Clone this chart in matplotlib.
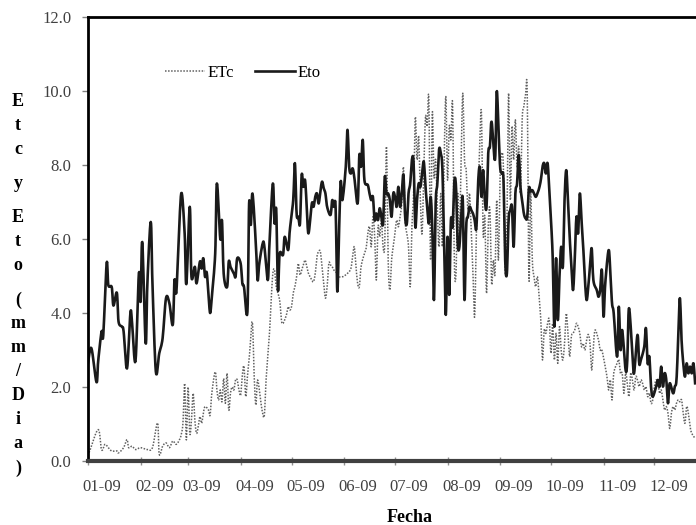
import numpy as np
import matplotlib
matplotlib.use("Agg")
import matplotlib.pyplot as plt
import matplotlib.transforms as mtransforms

# daily values (day of year 2009, value in mm/dia)
eto_day = [0, 2, 5, 6, 8, 9, 11, 12, 14, 15, 17, 18, 20, 21, 23, 25, 26, 28, 30, 31,
           32, 34, 35, 37, 38, 40, 42, 44, 46, 48, 50, 51, 52, 53, 55, 57, 58, 60, 61, 63,
           64, 66, 67, 68, 69, 70, 71, 72, 73, 75, 76, 78, 79, 80, 82, 83, 84, 86, 87, 88,
           90, 91, 92, 94, 95, 96, 97, 99, 100, 101, 103, 104, 106, 107, 109, 110, 111, 112, 113, 115,
           116, 118, 119, 121, 122, 123, 124, 125, 126, 127, 128, 129, 130, 132, 133, 134, 135, 136, 137, 138,
           139, 140, 141, 143, 144, 145, 146, 147, 148, 149, 150, 152, 153, 154, 155, 156, 157, 159, 160, 161,
           162, 163, 165, 166, 167, 168, 169, 170, 171, 172, 173, 174, 175, 176, 177, 178, 179, 180, 181, 182,
           183, 184, 185, 186, 187, 188, 189, 190, 191, 192, 193, 194, 195, 196, 197, 198, 199, 200, 201, 202,
           203, 204, 205, 206, 207, 208, 209, 210, 211, 212, 213, 214, 215, 216, 217, 218, 219, 220, 221, 222,
           223, 224, 225, 226, 227, 228, 229, 230, 231, 232, 233, 234, 235, 236, 237, 238, 240, 241, 242, 243,
           244, 245, 246, 247, 248, 249, 250, 251, 252, 253, 254, 255, 256, 257, 258, 259, 260, 261, 262, 263,
           264, 265, 266, 267, 268, 269, 270, 271, 272, 273, 274, 275, 276, 277, 278, 279, 280, 281, 282, 283,
           284, 285, 286, 287, 288, 289, 290, 291, 292, 293, 294, 295, 296, 297, 298, 300, 301, 302, 303, 304,
           305, 307, 308, 309, 310, 312, 313, 314, 315, 317, 318, 319, 321, 322, 324, 325, 326, 328, 329, 330,
           331, 332, 333, 335, 336, 337, 338, 339, 340, 341, 342, 343, 345, 346, 347, 348, 349, 350, 351, 352,
           353, 354, 355, 356, 357, 358]
eto_val = [2.65, 3.05, 2.13, 2.7, 3.5, 3.4, 5.34, 4.75, 4.7, 4.2, 4.55, 3.77, 3.63, 3.5, 2.5, 4.0, 3.72, 2.7, 5.07, 4.3,
           5.92, 3.18, 4.8, 6.46, 4.8, 2.42, 2.91, 3.32, 4.4, 4.26, 3.68, 4.89, 4.53, 5.43, 7.24, 6.14, 4.78, 6.87, 4.98, 5.25,
           4.8, 5.39, 5.2, 5.48, 4.98, 5.1, 4.53, 4.0, 4.44, 5.6, 7.5, 6.0, 6.5, 5.07, 4.7, 5.39, 5.25, 5.07, 4.98, 5.48,
           5.34, 4.8, 4.7, 4.03, 6.96, 6.38, 7.23, 5.84, 4.89, 5.34, 5.88, 5.8, 4.89, 5.88, 7.5, 6.42, 6.78, 4.62, 5.6, 5.57,
           6.06, 5.7, 6.24, 7.05, 8.05, 6.69, 6.6, 6.42, 7.73, 7.41, 7.59, 6.87, 6.15, 6.96, 6.87, 7.14, 7.23, 6.96, 7.28, 7.55,
           7.37, 7.23, 6.87, 6.65, 7.05, 6.87, 6.87, 4.58, 6.15, 7.55, 7.05, 7.95, 8.95, 7.95, 7.77, 7.91, 7.68, 6.96, 8.27, 7.95,
           8.68, 7.59, 7.46, 7.23, 7.05, 7.14, 6.51, 6.69, 6.51, 6.83, 6.6, 6.42, 7.68, 7.23, 7.23, 7.05, 6.6, 7.23, 7.14, 6.87,
           7.41, 6.87, 7.23, 7.73, 6.6, 6.42, 7.23, 7.5, 8.14, 8.05, 6.33, 7.05, 7.5, 7.41, 7.77, 8.09, 7.41, 6.87, 6.42, 7.14,
           6.33, 4.35, 6.96, 7.5, 8.41, 8.32, 7.86, 5.7, 3.95, 6.06, 4.49, 6.51, 6.33, 7.55, 7.41, 5.88, 5.79, 6.6, 7.05, 4.35,
           6.33, 6.6, 6.87, 6.78, 6.69, 6.51, 6.29, 7.5, 7.95, 7.14, 7.86, 7.05, 6.87, 8.32, 8.5, 9.17, 8.14, 9.98, 9.04, 7.95,
           7.77, 7.59, 5.43, 5.07, 6.51, 6.78, 6.87, 5.79, 7.23, 7.5, 8.27, 7.41, 7.05, 6.69, 6.56, 6.6, 7.37, 7.28, 7.32, 7.23,
           7.14, 7.23, 7.37, 7.59, 7.95, 8.05, 7.77, 8.05, 7.32, 6.51, 5.52, 3.63, 5.48, 3.81, 4.98, 5.79, 5.25, 7.05, 7.86, 7.05,
           6.06, 5.34, 4.62, 5.43, 6.6, 6.15, 7.23, 6.51, 5.79, 4.9, 4.35, 4.71, 5.25, 5.75, 4.89, 4.62, 4.44, 4.62, 5.16, 3.9,
           4.8, 5.7, 5.07, 4.26, 3.99, 2.82, 4.17, 3.0, 3.54, 2.46, 2.73, 4.13, 2.91, 2.37, 3.41, 2.64, 2.73, 3.09, 3.59, 2.64,
           2.82, 2.01, 1.74, 2.01, 2.19, 2.01, 2.55, 2.01, 2.37, 2.19, 1.56, 2.1, 1.83, 2.01, 2.19, 3.27, 4.4, 3.27, 2.64, 2.28,
           2.64, 2.37, 2.55, 2.37, 2.64, 2.1]

etc_day = [0, 1, 6, 8, 10, 12, 14, 17, 18, 21, 23, 24, 26, 28, 31, 35, 38, 41, 42, 44,
           46, 48, 50, 52, 54, 55, 56, 57, 58, 59, 60, 61, 62, 63, 64, 65, 66, 67, 68, 69,
           71, 72, 73, 75, 76, 77, 78, 79, 80, 81, 82, 83, 84, 85, 86, 87, 88, 89, 90, 91,
           92, 93, 94, 95, 96, 97, 98, 99, 100, 102, 103, 104, 105, 107, 108, 109, 110, 111, 113, 114,
           115, 117, 118, 119, 120, 121, 122, 123, 124, 125, 126, 127, 128, 129, 130, 132, 133, 134, 135, 136,
           137, 138, 139, 140, 141, 142, 143, 144, 145, 147, 148, 150, 151, 153, 155, 156, 157, 158, 159, 160,
           161, 163, 164, 165, 166, 167, 168, 169, 170, 171, 172, 173, 174, 175, 176, 177, 178, 179, 180, 181,
           182, 183, 184, 185, 186, 187, 188, 189, 190, 191, 192, 193, 194, 195, 196, 197, 198, 199, 200, 201,
           202, 203, 204, 205, 206, 207, 208, 209, 210, 211, 212, 213, 214, 215, 216, 217, 218, 219, 220, 221,
           222, 223, 224, 225, 226, 227, 228, 229, 230, 231, 232, 233, 234, 235, 236, 237, 238, 239, 240, 241,
           242, 243, 244, 245, 246, 247, 248, 249, 250, 251, 252, 253, 254, 255, 256, 257, 258, 259, 260, 261,
           262, 263, 264, 265, 266, 267, 268, 269, 270, 271, 272, 273, 274, 275, 276, 277, 278, 279, 280, 281,
           282, 283, 284, 285, 286, 287, 288, 289, 290, 291, 292, 293, 294, 295, 296, 297, 298, 299, 301, 302,
           303, 305, 306, 307, 308, 309, 310, 312, 313, 314, 315, 316, 317, 318, 319, 320, 321, 322, 323, 324,
           325, 326, 327, 328, 329, 330, 331, 332, 333, 334, 335, 336, 337, 338, 339, 340, 341, 342, 343, 344,
           345, 346, 347, 348, 349, 350, 351, 352, 353, 354, 355, 356, 358]
etc_val = [0.15, 0.27, 0.85, 0.3, 0.45, 0.36, 0.27, 0.27, 0.22, 0.36, 0.58, 0.36, 0.4, 0.31, 0.36, 0.31, 0.36, 1.03, 0.18, 0.4,
           0.49, 0.36, 0.54, 0.45, 0.58, 0.72, 1.03, 2.1, 0.57, 2.0, 0.75, 1.1, 1.83, 1.1, 0.75, 0.93, 1.2, 1.02, 1.29, 1.47,
           1.38, 1.24, 1.83, 2.41, 1.92, 1.65, 1.92, 1.6, 2.23, 1.56, 2.37, 1.38, 1.83, 2.0, 1.92, 2.19, 2.19, 1.92, 1.78, 2.32,
           2.55, 1.74, 2.28, 2.73, 3.36, 3.72, 2.28, 1.51, 2.19, 1.56, 1.29, 1.24, 2.19, 3.45, 4.35, 5.07, 5.16, 4.71, 4.35, 3.81,
           3.72, 3.95, 4.17, 4.08, 4.17, 4.53, 4.71, 4.98, 5.34, 5.03, 5.16, 5.3, 5.43, 5.25, 5.07, 4.89, 4.85, 5.07, 5.52, 5.66,
           5.66, 5.25, 4.8, 4.4, 4.71, 5.34, 5.3, 5.25, 5.16, 5.07, 4.98, 4.98, 5.0, 5.07, 5.2, 5.52, 5.79, 5.25, 4.8, 4.71,
           5.25, 5.61, 5.75, 6.15, 6.33, 5.79, 6.6, 6.11, 4.89, 6.33, 6.06, 6.51, 5.79, 5.9, 8.5, 5.43, 4.62, 5.43, 5.79, 6.15,
           6.51, 6.33, 6.6, 6.96, 7.95, 6.51, 6.15, 5.79, 4.71, 6.33, 7.23, 9.3, 8.14, 8.77, 7.05, 6.15, 7.86, 9.3, 9.04, 9.76,
           5.43, 9.4, 7.68, 8.14, 6.78, 5.79, 7.23, 5.79, 8.14, 9.85, 7.59, 9.04, 8.68, 9.62, 5.43, 5.07, 7.23, 6.06, 8.14, 9.94,
           8.14, 7.86, 6.78, 7.23, 6.15, 5.07, 3.9, 6.15, 7.23, 8.59, 9.4, 6.15, 6.6, 4.53, 6.33, 6.78, 4.8, 5.43, 5.07, 7.05,
           5.43, 7.68, 8.32, 7.86, 5.07, 6.33, 9.94, 7.05, 9.04, 8.14, 9.22, 7.95, 8.5, 7.23, 9.22, 9.58, 9.9, 9.94, 4.89, 7.23,
           5.43, 4.98, 4.71, 4.98, 4.44, 3.81, 2.73, 3.54, 3.45, 3.72, 3.81, 2.91, 3.72, 2.73, 3.45, 2.64, 3.63, 3.0, 2.73, 3.18,
           3.99, 3.45, 2.82, 3.36, 3.45, 3.54, 3.72, 3.63, 3.45, 3.09, 3.18, 3.0, 3.27, 3.42, 3.18, 2.46, 3.09, 3.54, 3.27, 3.0,
           3.0, 2.55, 2.28, 1.92, 2.19, 1.65, 2.37, 2.64, 2.73, 2.37, 2.37, 1.83, 2.37, 2.1, 1.74, 2.37, 2.19, 1.92, 2.28, 2.19,
           2.01, 2.19, 2.1, 1.92, 2.01, 1.74, 1.83, 1.56, 1.65, 2.01, 2.19, 2.1, 1.83, 1.92, 1.65, 1.38, 1.47, 1.29, 0.88, 1.29,
           1.47, 1.38, 1.56, 1.65, 1.6, 1.65, 1.29, 1.02, 1.47, 1.29, 0.93, 0.75, 0.61]

month_start = [0, 31, 59, 90, 120, 151, 181, 212, 243, 273, 304, 334]
month_labels = ["01-09", "02-09", "03-09", "04-09", "05-09", "06-09",
                "07-09", "08-09", "09-09", "10-09", "11-09", "12-09"]
ylabel_text = "Etc y Eto (mm/Dia)"


def smooth(x, y, n=8):
    # Excel style smoothed line: cubic Bezier through every point
    x = np.asarray(x, float)
    y = np.asarray(y, float)
    px = np.concatenate([[x[0]], x, [x[-1]]])
    py = np.concatenate([[y[0]], y, [y[-1]]])
    t = np.linspace(0, 1, n, endpoint=False)[:, None]
    b0, b1, b2, b3 = (1 - t) ** 3, 3 * (1 - t) ** 2 * t, 3 * (1 - t) * t ** 2, t ** 3
    i = np.arange(1, len(x))
    c1x = px[i] + (px[i + 1] - px[i - 1]) / 6
    c1y = py[i] + (py[i + 1] - py[i - 1]) / 6
    c2x = px[i + 1] - (px[i + 2] - px[i]) / 6
    c2y = py[i + 1] - (py[i + 2] - py[i]) / 6
    sx = (b0 * px[i] + b1 * c1x + b2 * c2x + b3 * px[i + 1]).T.ravel()
    sy = (b0 * py[i] + b1 * c1y + b2 * c2y + b3 * py[i + 1]).T.ravel()
    return np.append(sx, x[-1]), np.append(sy, y[-1])


plt.rcParams['font.family'] = ['Liberation Serif', 'DejaVu Serif']

W, H = 696, 525
fig = plt.figure(figsize=(W / 100, H / 100), dpi=100)
# plot area runs past the right edge of the picture (cropped in the original)
ax = fig.add_axes([88 / W, (H - 461) / H, (707 - 88) / W, 444 / H])

ax.plot(*smooth(etc_day, etc_val), color='#606060', linewidth=1.1,
        linestyle=(0, (1, 1)), label='ETc')
ax.plot(*smooth(eto_day, eto_val), color='#1a1a1a', linewidth=1.9, label='Eto')

ax.set_xlim(0, 365)
ax.set_ylim(0, 12)
ax.set_yticks(np.arange(0, 12.1, 2))
ax.set_yticklabels([f"{v:.1f}" for v in np.arange(0, 12.1, 2)])
ax.set_xticks(month_start)
ax.set_xticklabels(month_labels)

ax.tick_params(axis='y', direction='out', length=4, width=1, color='#808080',
               labelsize=12, labelcolor='#404040', pad=8)
ax.tick_params(axis='x', direction='inout', length=6, width=1, color='#909090',
               labelsize=12, labelcolor='#404040', pad=10)

# month labels sit a bit to the right of their tick marks
shift = mtransforms.ScaledTranslation(14 / 100, 0, fig.dpi_scale_trans)
for lab in ax.get_xticklabels():
    lab.set_transform(lab.get_transform() + shift)

ax.spines['left'].set_linewidth(2)
ax.spines['left'].set_color('black')
ax.spines['top'].set_linewidth(2)
ax.spines['top'].set_color('black')
ax.spines['bottom'].set_linewidth(3)
ax.spines['bottom'].set_color('#404040')
ax.spines['right'].set_visible(False)

ax.legend(loc='center left', bbox_to_anchor=(0.124, 0.874), ncol=2, frameon=False,
          fontsize=12, handlelength=2.4, handletextpad=0.15, columnspacing=1.3,
          borderpad=0, borderaxespad=0)

fig.text(410 / W, 1 - 518 / H, "Fecha", ha='center', va='center',
         fontsize=13, fontweight='bold')

# stacked vertical y label, one character per line
ypx = 102
for ch in ylabel_text:
    if ch == ' ':
        ypx += 10
        continue
    fig.text(18 / W, 1 - ypx / H, ch, ha='center', va='center',
             fontsize=13, fontweight='bold')
    ypx += 24

fig.savefig("out.png", dpi=100)
